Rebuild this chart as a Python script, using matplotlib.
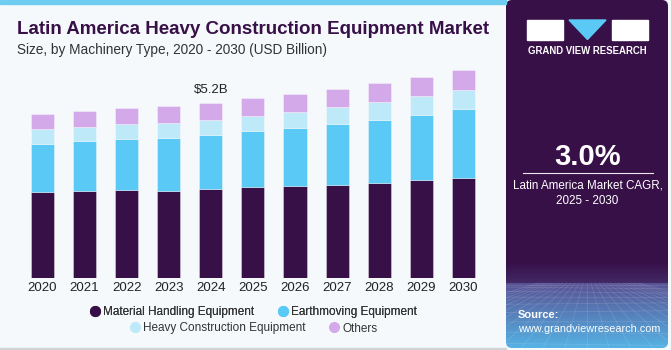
import matplotlib
matplotlib.use("Agg")
import matplotlib.pyplot as plt
import numpy as np
from matplotlib.lines import Line2D
from matplotlib.patches import Rectangle, Polygon, FancyBboxPatch

plt.rcParams["font.family"] = ["Liberation Sans", "DejaVu Sans"]

years = ["2020", "2021", "2022", "2023", "2024", "2025", "2026", "2027", "2028", "2029", "2030"]
material_handling = [2.56, 2.58, 2.61, 2.60, 2.64, 2.69, 2.72, 2.77, 2.83, 2.90, 2.98]
earthmoving = [1.42, 1.48, 1.52, 1.56, 1.61, 1.66, 1.72, 1.80, 1.87, 1.94, 2.04]
heavy_construction = [0.44, 0.42, 0.44, 0.44, 0.45, 0.47, 0.49, 0.49, 0.53, 0.55, 0.56]
others = [0.46, 0.47, 0.48, 0.49, 0.50, 0.51, 0.53, 0.55, 0.55, 0.58, 0.60]
series_names = ["Material Handling Equipment", "Earthmoving Equipment",
                "Heavy Construction Equipment", "Others"]
colors = ["#381048", "#5bc9f5", "#bde9f9", "#d4a9ea"]
annot_year = "2024"
annot_text = "$5.2B"

W, H = 671, 350
fig = plt.figure(figsize=(W / 100, H / 100), dpi=100)
fig.patch.set_facecolor("#f5f9fc")

# decorations on left panel
fig.patches.append(Rectangle((0, 1 - 4 / H), 506 / W, 4 / H, transform=fig.transFigure,
                             color="#6fcdf2", zorder=0))
fig.patches.append(Rectangle((0, 0), 506 / W, 2 / H, transform=fig.transFigure,
                             color="#cfd3d6", zorder=0))

ax = fig.add_axes([20 / W, 71.7 / H, 465 / W, 218.3 / H])
ax.set_facecolor("none")
x = np.arange(len(years))
series = [material_handling, earthmoving, heavy_construction, others]
bottom = np.zeros(len(years))
for vals, c in zip(series, colors):
    ax.bar(x, vals, width=0.55, bottom=bottom, color=c, edgecolor=(1, 1, 1, 0.5), linewidth=0.5)
    bottom += np.array(vals)
ax.set_xlim(-0.535, 10.515)
ax.set_ylim(0, 6.465)
for s in ax.spines.values():
    s.set_visible(False)
ax.set_yticks([])
ax.set_xticks(x)
ax.set_xticklabels(years, fontsize=9.5, color="#222222")
ax.tick_params(axis="x", length=0, pad=3)
i = years.index(annot_year)
ax.text(x[i], bottom[i] + 0.2, annot_text, ha="center", va="bottom", fontsize=9.5, color="#222222")

# titles
fig.text(17 / W, 1 - 30 / H, "Latin America Heavy Construction Equipment Market",
         fontsize=13.5, fontweight="bold", color="#381048", ha="left", va="center")
fig.text(17 / W, 1 - 50 / H, "Size, by Machinery Type, 2020 - 2030 (USD Billion)",
         fontsize=9.8, color="#333333", ha="left", va="center")

# legends
handles = [Line2D([], [], marker="o", linestyle="none", markersize=7,
                  markerfacecolor=c, markeredgecolor=c, label=n)
           for c, n in zip(colors, series_names)]
leg1 = fig.legend(handles=handles[:2], loc="center", bbox_to_anchor=(253 / W, 1 - 312 / H),
                  ncol=2, frameon=False, fontsize=8.5, handletextpad=0.2, columnspacing=1.9,
                  handlelength=1.0, labelcolor="#333333")
fig.add_artist(leg1)
leg2 = fig.legend(handles=handles[2:], loc="center", bbox_to_anchor=(253 / W, 1 - 328.5 / H),
                  ncol=2, frameon=False, fontsize=8.5, handletextpad=0.2, columnspacing=1.9,
                  handlelength=1.0, labelcolor="#333333")

# right panel
PW, PH = 162, 348
rp = fig.add_axes([506 / W, 2 / H, PW / W, PH / H])
rp.set_axis_off()
n = PH
c_top = np.array([0x38, 0x10, 0x48]) / 255
c_mid = np.array([0x42, 0x2a, 0x66]) / 255
c_band = np.array([0x58, 0x52, 0x94]) / 255
c_bot = np.array([0x55, 0xb4, 0xe6]) / 255
grad = np.zeros((n, 1, 3))
for r in range(n):
    if r < 262:
        grad[r, 0] = c_top
    elif r < 283:
        t = (r - 262) / 21
        grad[r, 0] = c_top * (1 - t) + c_mid * t
    else:
        t = (r - 283) / (n - 283)
        grad[r, 0] = c_band * (1 - t) + c_bot * t
rp.set_xlim(0, PW)
rp.set_ylim(PH, 0)
im = rp.imshow(grad, aspect="auto", extent=[0, PW, PH, 0])
clip = FancyBboxPatch((0, 0), PW, PH, boxstyle="round,pad=0,rounding_size=6",
                      transform=rp.transData, facecolor="none", edgecolor="none")
rp.add_patch(clip)
im.set_clip_path(clip)
# faint perspective grid in the lower band
for k in range(12):
    yy = 285 + (k ** 1.6) * 2.1
    if yy < PH:
        rp.plot([0, PW], [yy, yy + 2 * np.sin(k)], color="white", alpha=0.12, linewidth=0.6)
for k in range(-12, 14):
    x0 = PW / 2 + k * 4
    x1 = PW / 2 + k * 22
    rp.plot([x0, x1], [283, PH], color="white", alpha=0.12, linewidth=0.6)
rp.set_xlim(0, PW)
rp.set_ylim(PH, 0)

# logo
rp.add_patch(Rectangle((21, 20), 36, 19.5, color="white"))
rp.add_patch(Polygon([(63, 20), (100, 20), (81.5, 39.5)], closed=True, color="#5bc9f5"))
rp.add_patch(Rectangle((106, 20), 36, 19.5, color="white"))
rp.text(81.5, 50.7, "GRAND VIEW RESEARCH", fontsize=6.9, fontweight="bold",
        color="white", ha="center", va="center")
rp.text(81.5, 156.7, "3.0%", fontsize=21, fontweight="bold", color="white", ha="center", va="center")
rp.plot([17, 147], [173.3, 173.3], color="white", linewidth=0.8, alpha=0.9)
rp.text(81.5, 185, "Latin America Market CAGR,", fontsize=8.4, color="white", ha="center", va="center")
rp.text(81.5, 201, "2025 - 2030", fontsize=8.4, color="white", ha="center", va="center")
rp.text(12, 315, "Source:", fontsize=8, fontweight="bold", color="white", ha="left", va="center")
rp.text(12, 329.3, "www.grandviewresearch.com", fontsize=7.8, color="white", ha="left", va="center")

fig.savefig("out.png", dpi=100, facecolor=fig.get_facecolor())
